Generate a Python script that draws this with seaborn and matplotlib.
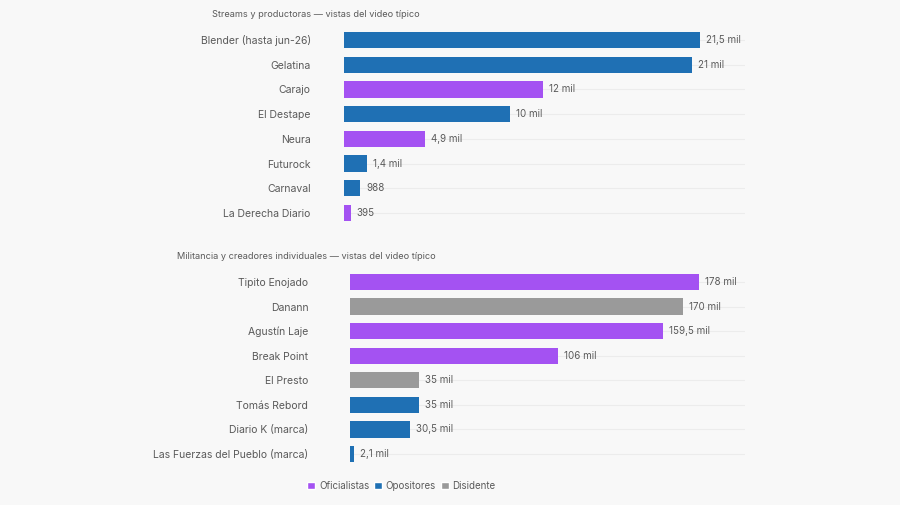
import pandas as pd
import matplotlib.pyplot as plt
import seaborn as sns
from matplotlib.patches import Patch

# data
streams = ['Blender (hasta jun-26)', 'Gelatina', 'Carajo', 'El Destape', 'Neura',
           'Futurock', 'Carnaval', 'La Derecha Diario']
streams_views = [21500, 21000, 12000, 10000, 4900, 1400, 988, 395]
streams_group = ['Opositores', 'Opositores', 'Oficialistas', 'Opositores', 'Oficialistas',
                 'Opositores', 'Opositores', 'Oficialistas']
streams_labels = ['21,5 mil', '21 mil', '12 mil', '10 mil', '4,9 mil', '1,4 mil', '988', '395']

creators = ['Tipito Enojado', 'Danann', 'Agustín Laje', 'Break Point', 'El Presto',
            'Tomás Rebord', 'Diario K (marca)', 'Las Fuerzas del Pueblo (marca)']
creators_views = [178000, 170000, 159500, 106000, 35000, 35000, 30500, 2100]
creators_group = ['Oficialistas', 'Disidente', 'Oficialistas', 'Oficialistas', 'Disidente',
                  'Opositores', 'Opositores', 'Opositores']
creators_labels = ['178 mil', '170 mil', '159,5 mil', '106 mil', '35 mil', '35 mil',
                   '30,5 mil', '2,1 mil']

groups = ['Oficialistas', 'Opositores', 'Disidente']
colors = {'Oficialistas': '#a452f2', 'Opositores': '#1f70b4', 'Disidente': '#9a9a9a'}

bg = '#f8f8f8'
txt = '#5a5a5a'

sns.set_theme(style='white')
plt.rcParams['font.family'] = ['Inter', 'DejaVu Sans']

fig = plt.figure(figsize=(9, 5.05), dpi=100, facecolor=bg)
ax1 = fig.add_axes([0.3822, 0.5537, 0.4456, 0.3916])
ax2 = fig.add_axes([0.3889, 0.0766, 0.4389, 0.3894])


def draw(ax, names, vals, grp, labels, xmax, gap):
    df = pd.DataFrame({'name': names, 'views': vals, 'group': grp})
    ax.set_facecolor(bg)
    sns.barplot(data=df, y='name', x='views', hue='group', palette=colors,
                dodge=False, width=0.66, orient='h', ax=ax, legend=False,
                saturation=1, linewidth=0)
    ax.set_xlim(0, xmax)
    ax.set_ylim(len(names) - 0.5, -0.5)
    ax.set_xlabel('')
    ax.set_ylabel('')
    ax.set_xticks([])
    for s in ax.spines.values():
        s.set_visible(False)
    ax.grid(False)
    for i in range(len(names)):
        ax.axhline(i, color='#ececec', lw=0.8, zorder=0)
    ax.tick_params(axis='y', length=gap - 3, color='#eeeeee', width=0.8, pad=3,
                   labelsize=7.5, labelcolor=txt)
    for i, (v, lab) in enumerate(zip(vals, labels)):
        ax.text(v + xmax * 0.015, i, lab, va='center', ha='left', fontsize=7, color=txt)


# gap in points between label and bar start
draw(ax1, streams, streams_views, streams_group, streams_labels, 24220, 24)
draw(ax2, creators, creators_views, creators_group, creators_labels, 201500, 30)

fig.text(0.2356, 0.972, 'Streams y productoras — vistas del video típico',
         fontsize=6.6, color=txt, va='center', ha='left')
fig.text(0.1967, 0.493, 'Militancia y creadores individuales — vistas del video típico',
         fontsize=6.6, color=txt, va='center', ha='left')

handles = [Patch(facecolor=colors[g], label=g) for g in groups]
fig.legend(handles=handles, loc='center', bbox_to_anchor=(0.446, 0.038), ncol=3,
           frameon=False, fontsize=7, handlelength=0.85, handleheight=0.85,
           handletextpad=0.35, columnspacing=0.5, labelcolor=txt)

fig.savefig('out.png', dpi=100, facecolor=bg)
